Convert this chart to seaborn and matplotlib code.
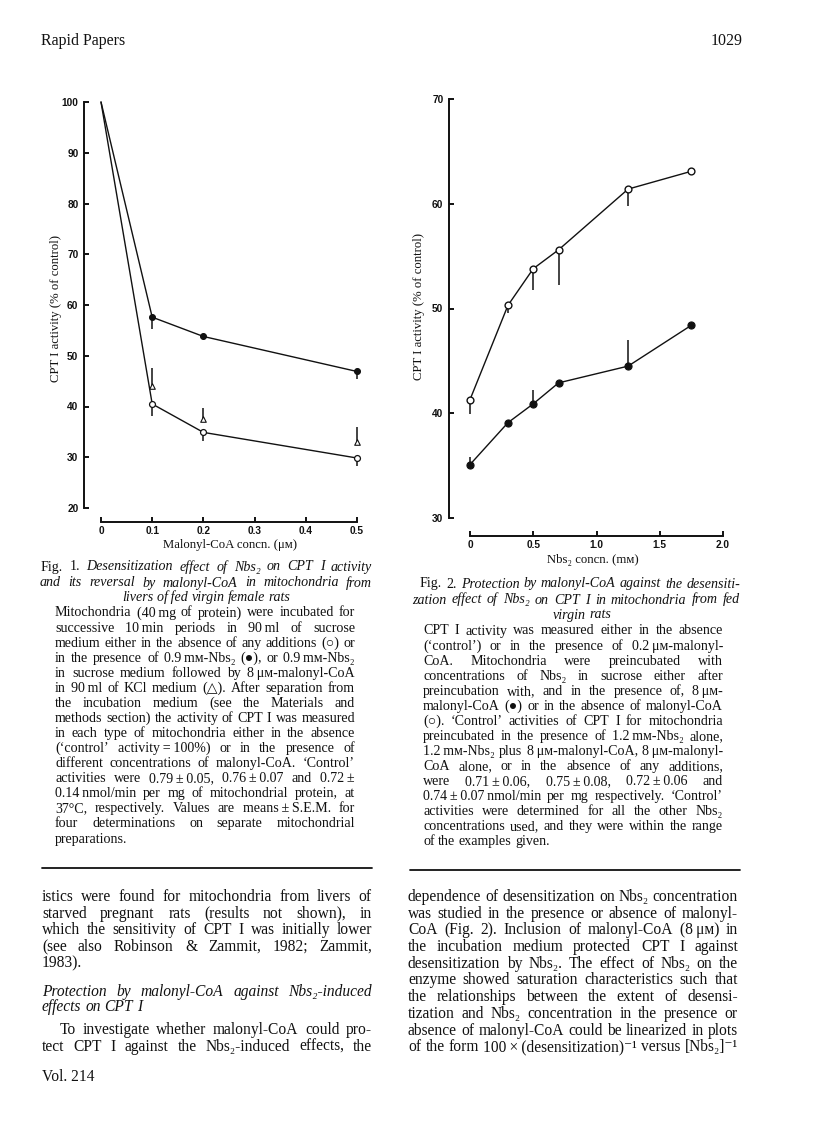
import numpy as np
import pandas as pd
import matplotlib
matplotlib.use("Agg")
import matplotlib.pyplot as plt
from matplotlib.lines import Line2D
import seaborn as sns

# ---------------- data ----------------
# Fig. 1
f1_conc = [0, 0.1, 0.2, 0.5]
f1_nbs = [100, 57.6, 53.8, 46.9]          # filled circles (0.9 mM Nbs2)
f1_nbs_err = [0, 2.4, 0.5, 1.4]
f1_ctrl = [100, 40.5, 34.9, 29.85]        # open circles (no additions)
f1_ctrl_err = [0, 2.4, 1.6, 1.6]
f1_mal_conc = [0.1, 0.2, 0.5]             # triangles (Nbs2 then malonyl-CoA)
f1_mal = [44.1, 37.5, 33.0]
f1_mal_err = [3.5, 2.2, 2.9]
f1_xticks = [0, 0.1, 0.2, 0.3, 0.4, 0.5]
f1_xticklabels = ["0", "0.1", "0.2", "0.3", "0.4", "0.5"]
f1_yticks = [20, 30, 40, 50, 60, 70, 80, 90, 100]

# Fig. 2
f2_conc = [0, 0.3, 0.5, 0.7, 1.25, 1.75]
f2_open = [41.3, 50.3, 53.8, 55.6, 61.4, 63.1]
f2_open_err = [1.35, 0.7, 2.0, 3.35, 1.6, 0]
f2_filled = [35.1, 39.1, 40.9, 42.9, 44.5, 48.4]
f2_filled_err = [0.7, 0, 1.3, 0, 2.5, 0]
f2_xticks = [0, 0.5, 1.0, 1.5, 2.0]
f2_xticklabels = ["0", "0.5", "1.0", "1.5", "2.0"]
f2_yticks = [30, 40, 50, 60, 70]

W, H = 816, 1136
sns.set_theme(style="ticks")
plt.rcParams["font.family"] = ["Liberation Sans", "DejaVu Sans"]
SERIF = ["Liberation Serif", "DejaVu Serif", "DejaVu Sans"]
INK = "#111111"

fig = plt.figure(figsize=(W / 100, H / 100), dpi=100)
fig.patch.set_facecolor("white")


def px_axes(l, r, t, b):
    return fig.add_axes([l / W, 1 - b / H, (r - l) / W, (b - t) / H])


def style_axes(ax, xb, yb, xticks, xlabels, yticks):
    sns.despine(ax=ax)
    ax.set_facecolor("white")
    for s in ("left", "bottom"):
        ax.spines[s].set_linewidth(1.4)
        ax.spines[s].set_color(INK)
    ax.spines["bottom"].set_bounds(*xb)
    ax.spines["left"].set_bounds(*yb)
    ax.set_xticks(xticks)
    ax.set_xticklabels(xlabels)
    ax.set_yticks(yticks)
    ax.set_yticklabels([str(v) for v in yticks])
    ax.tick_params(direction="in", length=3.6, width=1.4, color=INK,
                   labelsize=7.3, labelcolor=INK)
    ax.tick_params(axis="y", pad=4.0)
    ax.tick_params(axis="x", pad=3.2)
    for lab in ax.get_xticklabels() + ax.get_yticklabels():
        lab.set_fontweight("bold")


def noclip(container):
    for art in container.lines[2] if hasattr(container, "lines") else []:
        art.set_clip_on(False)


# ---------------- Fig. 1 ----------------
ax1 = px_axes(84, 357, 102, 522)
ax1.set_xlim(-17 / 512, 0.5)
ax1.set_ylim(20 - 14 / 5.075, 100)

d1 = pd.DataFrame({"conc": f1_conc, "nbs": f1_nbs, "ctrl": f1_ctrl})
sns.lineplot(data=d1, x="conc", y="nbs", ax=ax1, color=INK, lw=1.0, clip_on=False)
sns.lineplot(data=d1, x="conc", y="ctrl", ax=ax1, color=INK, lw=1.0, clip_on=False)
noclip(ax1.errorbar(f1_conc[1:], f1_nbs[1:], yerr=[f1_nbs_err[1:], [0] * 3], fmt="none",
                    ecolor=INK, elinewidth=1.1, capsize=0, zorder=2))
noclip(ax1.errorbar(f1_conc[1:], f1_ctrl[1:], yerr=[f1_ctrl_err[1:], [0] * 3], fmt="none",
                    ecolor=INK, elinewidth=1.1, capsize=0, zorder=2))
noclip(ax1.errorbar(f1_mal_conc, f1_mal, yerr=[[0] * 3, f1_mal_err], fmt="none",
                    ecolor=INK, elinewidth=1.1, capsize=0, zorder=2))
sns.scatterplot(x=f1_conc[1:], y=f1_nbs[1:], ax=ax1, marker="o", s=18,
                color=INK, edgecolor=INK, linewidth=0.8, zorder=4, clip_on=False)
sns.scatterplot(x=f1_conc[1:], y=f1_ctrl[1:], ax=ax1, marker="o", s=18,
                facecolor="white", edgecolor=INK, linewidth=0.9, zorder=4, clip_on=False)
sns.scatterplot(x=f1_mal_conc, y=f1_mal, ax=ax1, marker="^", s=16,
                facecolor="white", edgecolor=INK, linewidth=0.8, zorder=4, clip_on=False)
style_axes(ax1, (0, 0.5), (20, 100), f1_xticks, f1_xticklabels, f1_yticks)
ax1.set_xlabel("Malonyl-CoA concn. (μм)", family=SERIF, fontsize=9.2, color=INK, va="center")
ax1.xaxis.set_label_coords((230 - 84) / 273, (522 - 545) / 420)
ax1.set_ylabel("CPT I activity (% of control)", family=SERIF, fontsize=9.2, color=INK, va="center")
ax1.yaxis.set_label_coords((56 - 84) / 273, (522 - 308) / 420)

# ---------------- Fig. 2 ----------------
ax2 = px_axes(449, 723, 99, 536)
ax2.set_xlim(-21 / 126.5, 2.0)
ax2.set_ylim(30 - 18 / 10.475, 70)
d2 = pd.DataFrame({"conc": f2_conc, "open": f2_open, "filled": f2_filled})
sns.lineplot(data=d2, x="conc", y="open", ax=ax2, color=INK, lw=1.0)
sns.lineplot(data=d2, x="conc", y="filled", ax=ax2, color=INK, lw=1.0)
noclip(ax2.errorbar(f2_conc, f2_open, yerr=[f2_open_err, [0] * 6], fmt="none",
                    ecolor=INK, elinewidth=1.1, capsize=0, zorder=2))
noclip(ax2.errorbar(f2_conc, f2_filled, yerr=[[0] * 6, f2_filled_err], fmt="none",
                    ecolor=INK, elinewidth=1.1, capsize=0, zorder=2))
sns.scatterplot(x=f2_conc, y=f2_open, ax=ax2, marker="o", s=24,
                facecolor="white", edgecolor=INK, linewidth=1.0, zorder=4, clip_on=False)
sns.scatterplot(x=f2_conc, y=f2_filled, ax=ax2, marker="o", s=26,
                color=INK, edgecolor=INK, linewidth=0.8, zorder=4, clip_on=False)
style_axes(ax2, (0, 2.0), (30, 70), f2_xticks, f2_xticklabels, f2_yticks)
ax2.set_xlabel("Nbs₂ concn. (mм)", family=SERIF, fontsize=9.2, color=INK, va="center")
ax2.xaxis.set_label_coords((593 - 449) / 274, (536 - 560) / 437)
ax2.set_ylabel("CPT I activity (% of control)", family=SERIF, fontsize=9.2, color=INK, va="center")
ax2.yaxis.set_label_coords((419 - 449) / 274, (536 - 306) / 437)

# ---------------- page text ----------------
renderer = fig.canvas.get_renderer()


def measure(s, size, style):
    t = fig.text(0, 0, s, fontsize=size, style=style, family=SERIF)
    w = t.get_window_extent(renderer).width
    t.remove()
    return w


def tokens(s):
    toks = []
    for w in s.split(" "):
        st = "normal"
        if w.startswith("_"):
            st = "italic"
            w = w[1:]
        toks.append((w.replace("~", "\u2009"), st))
    return toks


def natural(s, size):
    toks = tokens(s)
    sp = measure("x x", size, "normal") - measure("xx", size, "normal")
    return sum(measure(w, size, st) for w, st in toks) + sp * (len(toks) - 1)


def fit_size(lines, width, base):
    ratios = [width / natural(s, base) for s in lines]
    return base * min(ratios)


def line(x0, x1, y, s, size, justify=True, center=False, base=3.5):
    toks = tokens(s)
    widths = [measure(w, size, st) for w, st in toks]
    sp = measure("x x", size, "normal") - measure("xx", size, "normal")
    total = sum(widths)
    if justify and len(toks) > 1:
        gap = (x1 - x0 - total) / (len(toks) - 1)
        start = x0
    else:
        gap = sp
        nat = total + sp * (len(toks) - 1)
        start = (x0 + x1) / 2 - nat / 2 if center else x0
    x = start
    yb = 1 - (y + base) / H
    for (w, st), wd in zip(toks, widths):
        fig.text(x / W, yb, w, fontsize=size, style=st, family=SERIF,
                 color=INK, va="baseline", ha="left")
        x += wd + gap


# header
fig.text(41 / W, 1 - 45 / H, "Rapid Papers", family=SERIF, fontsize=11.5, color=INK, va="baseline")
fig.text(743 / W, 1 - 45 / H, "1029", family=SERIF, fontsize=11.5, color=INK, va="baseline", ha="right")

cap1 = [
    "Mitochondria (40~mg of protein) were incubated for",
    "successive 10~min periods in 90~ml of sucrose",
    "medium either in the absence of any additions (○) or",
    "in the presence of 0.9~mм-Nbs₂ (●), or 0.9~mм-Nbs₂",
    "in sucrose medium followed by 8~μм-malonyl-CoA",
    "in 90~ml of KCl medium (△). After separation from",
    "the incubation medium (see the Materials and",
    "methods section) the activity of CPT I was measured",
    "in each type of mitochondria either in the absence",
    "(‘control’ activity~=~100%) or in the presence of",
    "different concentrations of malonyl-CoA. ‘Control’",
    "activities were 0.79~±~0.05, 0.76~±~0.07 and 0.72~±",
    "0.14~nmol/min per mg of mitochondrial protein, at",
    "37°C, respectively. Values are means~±~S.E.M. for",
    "four determinations on separate mitochondrial",
    "preparations.",
]
cap2 = [
    "CPT I activity was measured either in the absence",
    "(‘control’) or in the presence of 0.2~μм-malonyl-",
    "CoA. Mitochondria were preincubated with",
    "concentrations of Nbs₂ in sucrose either after",
    "preincubation with, and in the presence of, 8~μм-",
    "malonyl-CoA (●) or in the absence of malonyl-CoA",
    "(○). ‘Control’ activities of CPT I for mitochondria",
    "preincubated in the presence of 1.2~mм-Nbs₂ alone,",
    "1.2~mм-Nbs₂ plus 8~μм-malonyl-CoA, 8~μм-malonyl-",
    "CoA alone, or in the absence of any additions,",
    "were 0.71~±~0.06, 0.75~±~0.08, 0.72~±~0.06 and",
    "0.74~±~0.07~nmol/min per mg respectively. ‘Control’",
    "activities were determined for all the other Nbs₂",
    "concentrations used, and they were within the range",
    "of the examples given.",
]
leftcol = [
    "istics were found for mitochondria from livers of",
    "starved pregnant rats (results not shown), in",
    "which the sensitivity of CPT I was initially lower",
    "(see also Robinson & Zammit, 1982; Zammit,",
]
right = [
    "dependence of desensitization on Nbs₂ concentration",
    "was studied in the presence or absence of malonyl-",
    "CoA (Fig. 2). Inclusion of malonyl-CoA (8~μм) in",
    "the incubation medium protected CPT I against",
    "desensitization by Nbs₂. The effect of Nbs₂ on the",
    "enzyme showed saturation characteristics such that",
    "the relationships between the extent of desensi-",
    "tization and Nbs₂ concentration in the presence or",
    "absence of malonyl-CoA could be linearized in plots",
    "of the form 100~×~(desensitization)⁻¹ versus [Nbs₂]⁻¹",
]

CAP = min(fit_size(cap1[:-1], 300, 10.0), fit_size(cap2[:-1], 300, 10.0))
BODY = min(fit_size(right, 330, 11.5), fit_size(leftcol, 330, 11.5))
TITLE = CAP

# Fig. 1 caption
line(41, 372, 567, "Fig. 1. _Desensitization _effect _of _Nbs₂ _on _CPT _I _activity", TITLE)
line(40, 372, 583, "_and _its _reversal _by _malonyl-CoA _in _mitochondria _from", TITLE)
line(41, 372, 598, "_livers _of~fed _virgin _female _rats", TITLE, justify=False, center=True)
for i, s in enumerate(cap1):
    line(55, 355, 613 + i * 15.07, s, CAP, justify=(i < len(cap1) - 1))

# Fig. 2 caption
line(420, 740, 584, "Fig. 2. _Protection _by _malonyl-CoA _against _the _desensiti-", TITLE)
line(412, 740, 600, "_zation _effect _of _Nbs₂ _on _CPT _I _in _mitochondria _from _fed", TITLE)
line(412, 752, 615, "_virgin _rats", TITLE, justify=False, center=True)
for i, s in enumerate(cap2):
    line(423, 723, 631 + i * 15.07, s, CAP, justify=(i < len(cap2) - 1))

# rules
fig.add_artist(Line2D([42 / W, 372 / W], [1 - 868 / H, 1 - 868 / H], color=INK, lw=1.3,
                      transform=fig.transFigure))
fig.add_artist(Line2D([410 / W, 740 / W], [1 - 870 / H, 1 - 870 / H], color=INK, lw=1.3,
                      transform=fig.transFigure))

# left column body
L = 16.7
for i, s in enumerate(leftcol):
    line(42, 372, 897 + i * L, s, BODY, base=4)
line(42, 372, 897 + 4 * L, "1983).", BODY, justify=False, base=4)
line(42, 372, 992, "_Protection _by _malonyl-CoA _against _Nbs₂-induced", BODY, base=4)
line(42, 372, 1007, "_effects _on _CPT _I", BODY, justify=False, base=4)
line(60, 372, 1030, "To investigate whether malonyl-CoA could pro-", BODY, base=4)
line(42, 372, 1047, "tect CPT I against the Nbs₂-induced effects, the", BODY, base=4)
fig.text(42 / W, 1 - 1081 / H, "Vol. 214", family=SERIF, fontsize=BODY, color=INK, va="baseline")

# right column body
for i, s in enumerate(right):
    line(408, 738, 897 + i * L, s, BODY, base=4)

fig.savefig("out.png", dpi=100, facecolor="white")
